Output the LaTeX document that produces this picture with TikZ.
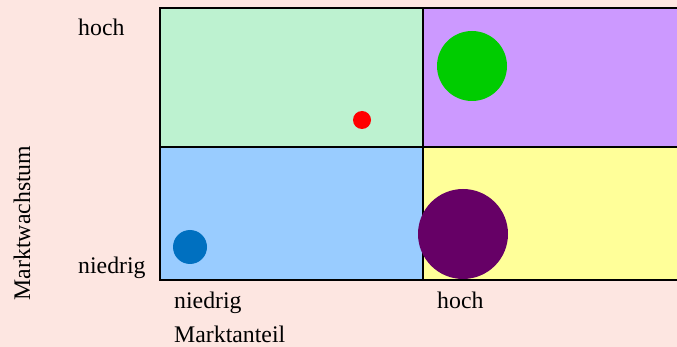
\documentclass[tikz,border=0pt]{standalone}
\usepackage{fontspec}
\setmainfont{Liberation Serif}
\definecolor{bgpink}{RGB}{253,230,225}
\definecolor{qgreen}{RGB}{189,242,208}
\definecolor{qpurple}{RGB}{204,153,255}
\definecolor{qblue}{RGB}{153,204,255}
\definecolor{qyellow}{RGB}{255,255,153}
\definecolor{cgreen}{RGB}{0,204,0}
\definecolor{cred}{RGB}{255,0,0}
\definecolor{cblue}{RGB}{0,112,192}
\definecolor{cpurple}{RGB}{102,0,102}
\tikzset{
  lbl/.style={font=\fontsize{23.8}{28}\selectfont, inner sep=0pt, anchor=base west},
  grid/.style={line width=2pt, black},
  bubble/.style={circle, inner sep=0pt, draw=none}
}
\begin{document}
\begin{tikzpicture}[x=1pt,y=-1pt]
\useasboundingbox (0,0) rectangle (677,347);
\clip (0,0) rectangle (677,347);
\fill[bgpink] (0,0) rectangle (677,347);
\fill[qgreen] (160,8) rectangle (423,147);
\fill[qpurple] (423,8) rectangle (690,147);
\fill[qblue] (160,147) rectangle (423,280);
\fill[qyellow] (423,147) rectangle (690,280);
\draw[grid] (690,8) -- (160,8) -- (160,280) -- (690,280);
\draw[grid] (160,147) -- (690,147);
\draw[grid] (423,8) -- (423,280);
\node[bubble, fill=cgreen, minimum size=70pt] (star) at (472,66) {};
\node[bubble, fill=cred, minimum size=18pt] (quest) at (362,120) {};
\node[bubble, fill=cblue, minimum size=34pt] (dog) at (190,247) {};
\node[bubble, fill=cpurple, minimum size=90pt] (cow) at (463,234) {};
\node[lbl] (yhoch) at (78,36) {hoch};
\node[lbl] (yniedrig) at (78,273) {niedrig};
\node[lbl] (xniedrig) at (174,308) {niedrig};
\node[lbl] (xhoch) at (437,308) {hoch};
\node[lbl] (xtitle) at (174,342) {Marktanteil};
\node[font=\fontsize{23.8}{28}\selectfont, inner sep=0pt, anchor=base, rotate=90] (ytitle) at (30,223) {Marktwachstum};
\end{tikzpicture}
\end{document}
